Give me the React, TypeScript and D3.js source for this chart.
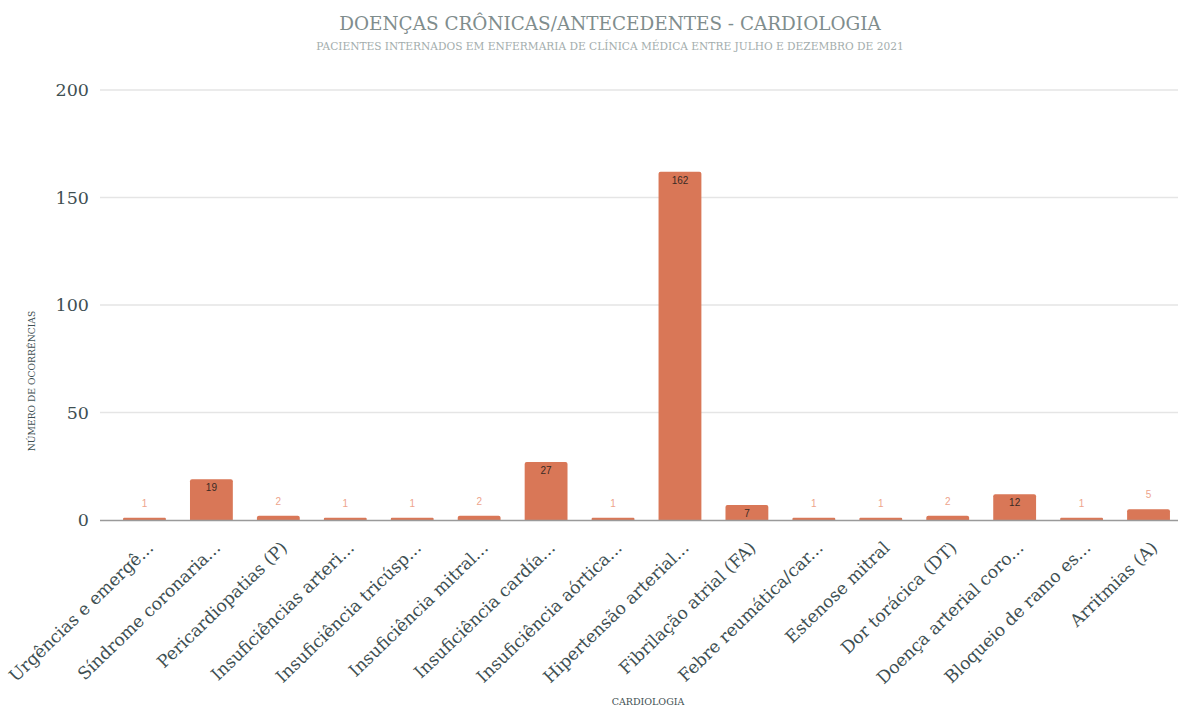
import React from "react";
import * as d3 from "d3";

const categories = [
  "Urgências e emergê...",
  "Síndrome coronaria...",
  "Pericardiopatias (P)",
  "Insuficiências arteri...",
  "Insuficiência tricúsp...",
  "Insuficiência mitral...",
  "Insuficiência cardía...",
  "Insuficiência aórtica...",
  "Hipertensão arterial...",
  "Fibrilação atrial (FA)",
  "Febre reumática/car...",
  "Estenose mitral",
  "Dor torácica (DT)",
  "Doença arterial coro...",
  "Bloqueio de ramo es...",
  "Arritmias (A)",
];
const values = [1, 19, 2, 1, 1, 2, 27, 1, 162, 7, 1, 1, 2, 12, 1, 5];
const yTicks = [0, 50, 100, 150, 200];
const insideThreshold = 7;

const title = "DOENÇAS CRÔNICAS/ANTECEDENTES - CARDIOLOGIA";
const subtitle = "PACIENTES INTERNADOS EM ENFERMARIA DE CLÍNICA MÉDICA ENTRE JULHO E DEZEMBRO DE 2021";
const yTitle = "NÚMERO DE OCORRÊNCIAS";
const xTitle = "CARDIOLOGIA";

const W = 1179;
const H = 706;
const left = 100;
const right = 1178;
const top = 90;
const bottom = 520;
const serif = "'DejaVu Serif', Georgia, serif";

export default function App() {
  const x = d3.scaleBand<string>().domain(categories).range([111, 1182]).paddingInner(0.36).paddingOuter(0.18);
  const y = d3.scaleLinear().domain([0, 200]).range([bottom, top]);
  const barColor = "#d97757";

  return (
    <svg width={W} height={H} style={{ position: "absolute", left: 0, top: 0, background: "#fff" }}>
      <text x={610} y={30} textAnchor="middle" fontFamily={serif} fontSize={18.4} fill="#7f8d8d">
        {title}
      </text>
      <text x={610} y={50} textAnchor="middle" fontFamily={serif} fontSize={10.6} fill="#a3adad">
        {subtitle}
      </text>
      {yTicks.map((t) => (
        <g key={t}>
          {t !== 0 && <line x1={left} x2={right} y1={y(t)} y2={y(t)} stroke="#e5e5e5" strokeWidth={1.5} />}
          <text x={89} y={y(t)} dy="0.35em" textAnchor="end" fontFamily={serif} fontSize={17.5} fill="#3e4f52">
            {t}
          </text>
        </g>
      ))}
      <text
        transform={`translate(35,${381}) rotate(-90)`}
        textAnchor="middle"
        fontFamily={serif}
        fontSize={9.2}
        fill="#3e4f52"
      >
        {yTitle}
      </text>
      {categories.map((c, i) => {
        const v = values[i];
        const bx = x(c)!;
        const bw = x.bandwidth();
        const by = y(v);
        const bh = bottom - by;
        const r = Math.min(2, bh / 2);
        const path = `M${bx},${bottom} V${by + r} Q${bx},${by} ${bx + r},${by} H${bx + bw - r} Q${bx + bw},${by} ${bx + bw},${by + r} V${bottom} Z`;
        const inside = v >= insideThreshold;
        return (
          <g key={c}>
            <path d={path} fill={barColor} />
            <text
              x={bx + bw / 2}
              y={inside ? by + 12 : by - 11}
              textAnchor="middle"
              fontFamily="'Liberation Sans', Arial, sans-serif"
              fontSize={10}
              fill={inside ? "#3a2a25" : "#eea48c"}
            >
              {v}
            </text>
          </g>
        );
      })}
      <line x1={left} x2={right} y1={bottom + 0.5} y2={bottom + 0.5} stroke="#9a9a9a" strokeWidth={1.5} />
      {categories.map((c) => {
        const cx = x(c)! + x.bandwidth() / 2 + 10;
        return (
          <text
            key={c}
            transform={`translate(${cx},${bottom + 29}) rotate(-44)`}
            textAnchor="end"
            fontFamily={serif}
            fontSize={17.2}
            fill="#3e4f52"
          >
            {c}
          </text>
        );
      })}
      <text x={648} y={705} textAnchor="middle" fontFamily={serif} fontSize={9.5} fill="#3e4f52">
        {xTitle}
      </text>
    </svg>
  );
}
